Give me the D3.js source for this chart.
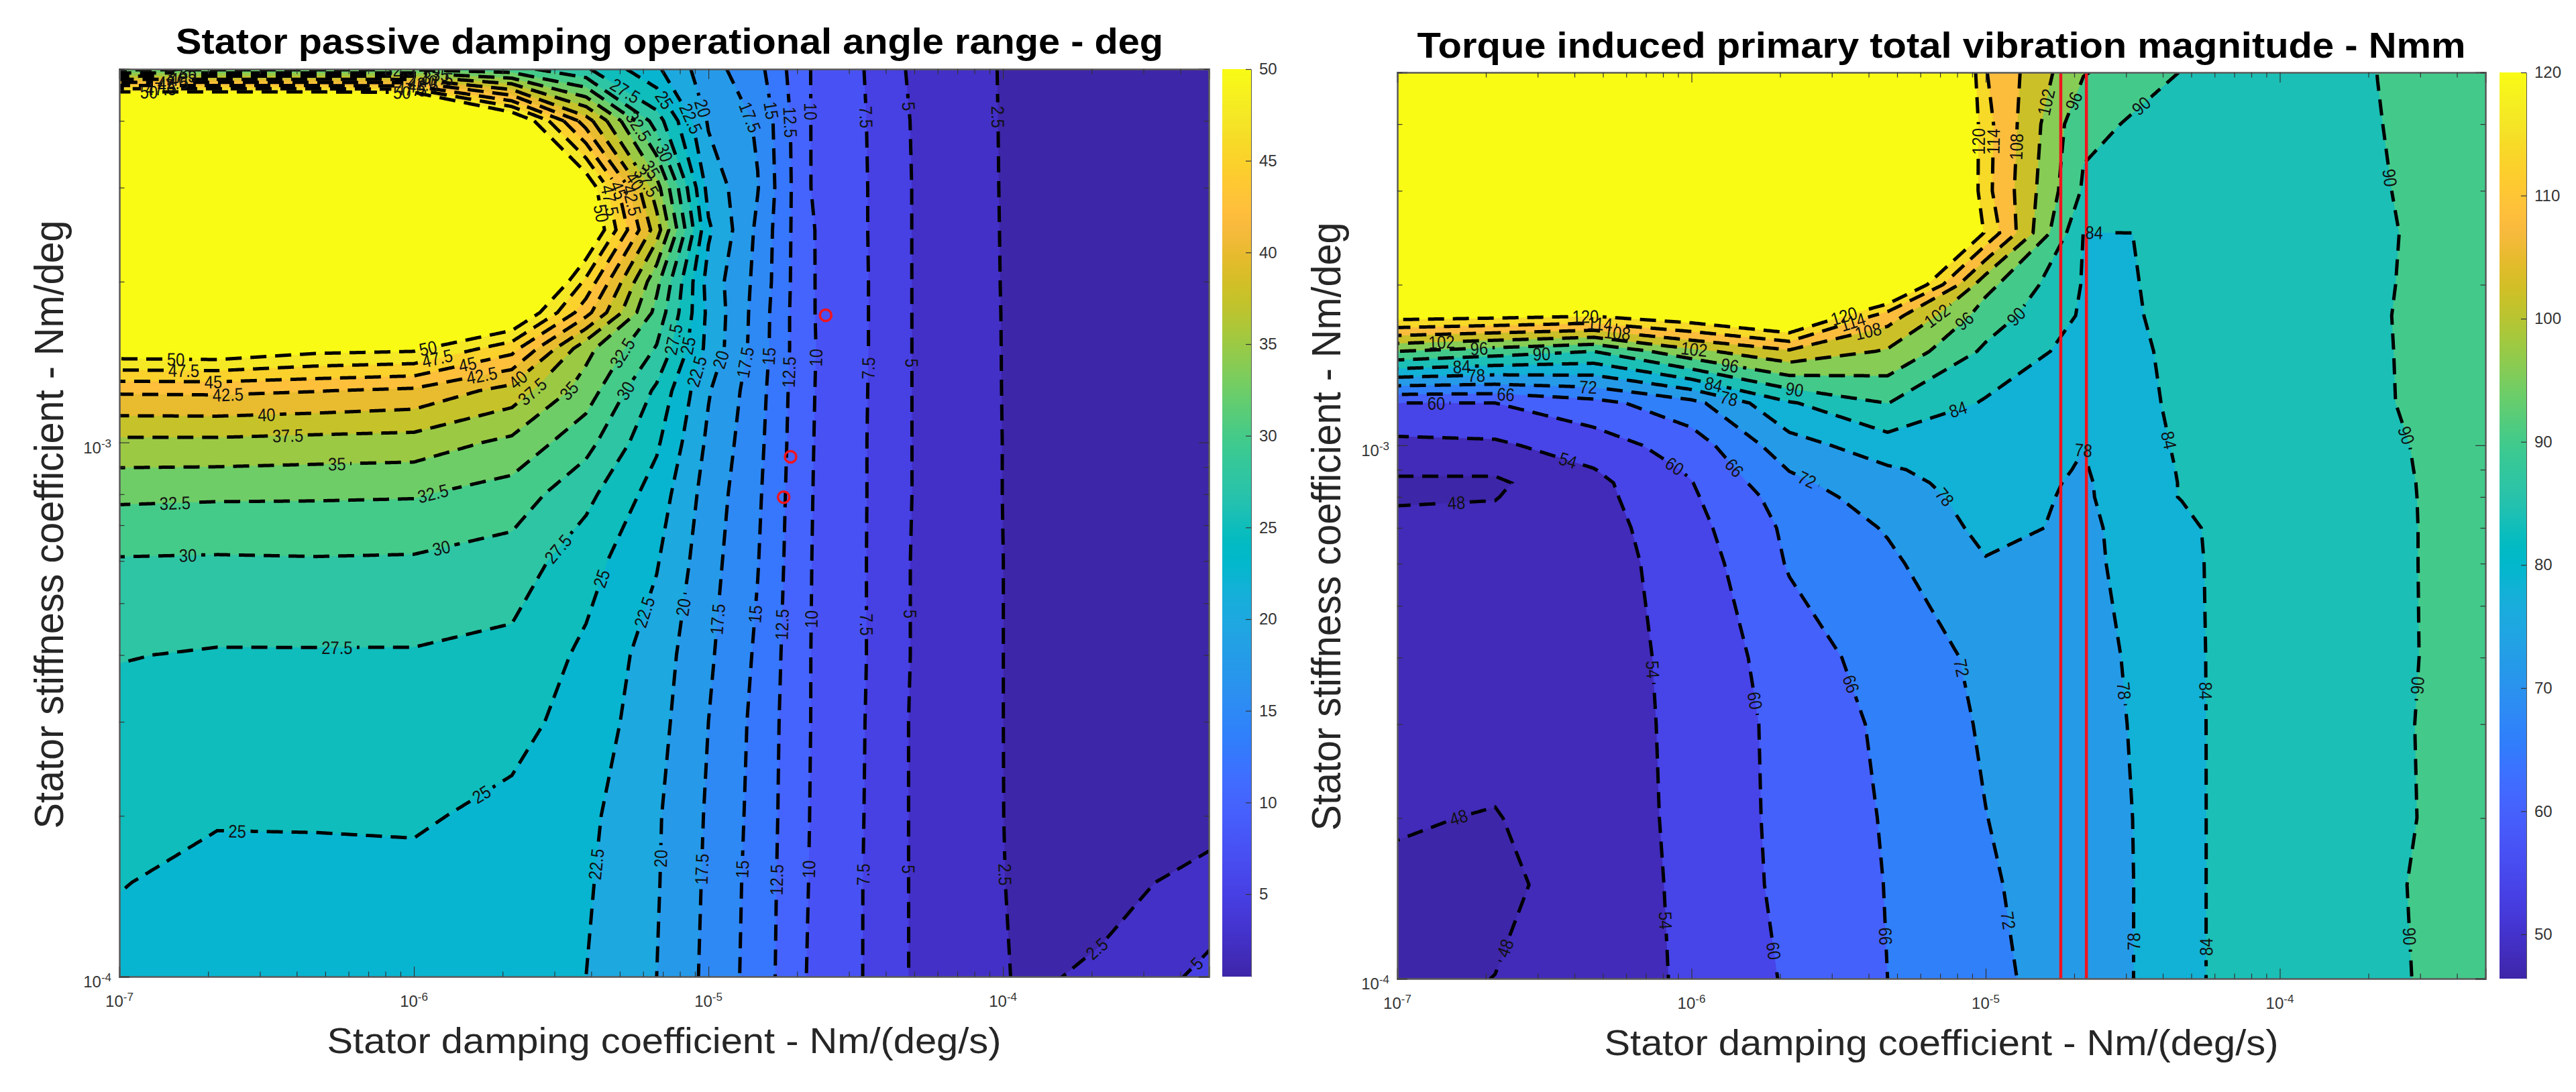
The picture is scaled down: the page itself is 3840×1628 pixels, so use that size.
<!DOCTYPE html>
<html>
<head>
<meta charset="utf-8">
<script src="https://cdn.jsdelivr.net/npm/d3@7"></script>
<style>
  body { margin: 0; background: white; }
  text { font-family: "Liberation Sans", Arial, sans-serif; }
</style>
</head>
<body>
<div id="chart"></div>
<script>
const textColor = '#333333';
const axisColor = '#5a5a5a';

// MATLAB parula, 64 entries
const parula = [
  [.2422,.1504,.6603],[.2504,.1650,.7076],[.2578,.1818,.7511],[.2647,.1978,.7952],
  [.2706,.2147,.8364],[.2751,.2342,.8710],[.2783,.2559,.8991],[.2803,.2782,.9221],
  [.2813,.3006,.9414],[.2810,.3228,.9579],[.2795,.3447,.9717],[.2760,.3667,.9829],
  [.2699,.3892,.9906],[.2602,.4123,.9952],[.2440,.4358,.9988],[.2206,.4603,.9973],
  [.1963,.4847,.9892],[.1834,.5074,.9798],[.1786,.5289,.9682],[.1764,.5499,.9520],
  [.1687,.5703,.9359],[.1540,.5902,.9218],[.1460,.6091,.9079],[.1380,.6276,.8973],
  [.1248,.6459,.8883],[.1113,.6635,.8763],[.0952,.6798,.8598],[.0689,.6948,.8394],
  [.0297,.7082,.8163],[.0036,.7203,.7917],[.0067,.7312,.7660],[.0433,.7411,.7394],
  [.0964,.7500,.7120],[.1408,.7584,.6842],[.1717,.7670,.6554],[.1938,.7758,.6251],
  [.2161,.7843,.5923],[.2470,.7918,.5567],[.2906,.7973,.5188],[.3406,.8008,.4789],
  [.3909,.8029,.4354],[.4456,.8024,.3909],[.5044,.7993,.3480],[.5616,.7942,.3045],
  [.6174,.7876,.2612],[.6720,.7793,.2227],[.7242,.7698,.1910],[.7738,.7598,.1646],
  [.8203,.7498,.1535],[.8634,.7406,.1596],[.9035,.7330,.1774],[.9393,.7288,.2100],
  [.9728,.7298,.2394],[.9956,.7434,.2371],[.9970,.7659,.2199],[.9952,.7861,.1967],
  [.9892,.8086,.1779],[.9786,.8323,.1660],[.9676,.8568,.1530],[.9610,.8890,.1537],
  [.9597,.9135,.1423],[.9628,.9373,.1265],[.9691,.9606,.1064],[.9769,.9839,.0805]
].map(c => d3.rgb(c[0] * 255, c[1] * 255, c[2] * 255).formatHex());

/* left panel data */
const angleDamping = [1e-7, 2.15e-7, 4.64e-7, 1e-6, 2.15e-6, 3.84e-6, 6.67e-6, 1e-5, 1.47e-5, 2.15e-5, 3.43e-5, 4.64e-5, 1e-4, 1.27e-4, 2.15e-4, 5e-4];
const angleStiffness = [1e-4, 1.5e-4, 2e-4, 3e-4, 4e-4, 6e-4, 8e-4, 1e-3, 1.25e-3, 1.5e-3, 1.75e-3, 2e-3, 2.5e-3, 3e-3, 4e-3, 5e-3];
// one line per stiffness row, bottom of the plot first
const angleRange = [
  [24.2, 23.6, 23.4, 23.3, 23.3, 22.5, 20, 16.9, 13.9, 10, 7.35, 5.1, 2.6, 2.2, 2.9, 5.64],
  [25.1, 24.3, 24.4, 24.4, 23.6, 22.8, 20.2, 17.06, 14, 10.1, 7.35, 5.1, 2.55, 1.9, 1.7, 3.3],
  [25.8, 25.2, 25.2, 25.3, 24.4, 23.1, 20.3, 17.2, 14.15, 10.15, 7.4, 5.1, 2.52, 1.7, 1.2, 1.6],
  [26.8, 26.4, 26.5, 26.5, 25.8, 24, 20.9, 17.5, 14.3, 10.2, 7.45, 5.1, 2.51, 1.7, 1.2, 1.2],
  [27.6, 27.3, 27.3, 27.3, 26.8, 24.5, 21.3, 17.9, 14.6, 10.2, 7.52, 5.15, 2.51, 1.7, 1.2, 1.2],
  [29.8, 29.7, 29.8, 29.7, 28.9, 26, 22.7, 18.45, 15.1, 10.25, 7.52, 5.15, 2.51, 1.7, 1.2, 1.2],
  [33, 32.85, 32.8, 32.7, 31.4, 28.2, 23.9, 18.9, 15.4, 10.3, 7.55, 5.2, 2.48, 1.7, 1.2, 1.2],
  [36.9, 36.9, 36.6, 36.4, 34.4, 30.85, 25.4, 19.5, 15.7, 10.35, 7.55, 5.2, 2.48, 1.7, 1.2, 1.2],
  [42.9, 43, 42.6, 42, 39, 33.8, 27, 20.2, 16, 10.4, 7.6, 5.2, 2.46, 1.7, 1.2, 1.2],
  [52.3, 52.5, 51, 50.6, 46, 35.8, 29.8, 21.7, 16.4, 10.45, 7.65, 5.2, 2.45, 1.7, 1.2, 1.2],
  [60, 60, 60, 58, 54, 43.4, 31.7, 21.9, 16.5, 10.4, 7.65, 5.2, 2.44, 1.7, 1.2, 1.2],
  [70, 70, 70, 66, 60, 46.9, 33.2, 21.5, 16.8, 10.4, 7.65, 5.2, 2.42, 1.7, 1.2, 1.2],
  [75, 75, 75, 72, 68, 54, 38.7, 22.9, 17, 10.4, 7.6, 5.2, 2.4, 1.7, 1.2, 1.2],
  [80, 80, 80, 76, 68, 52.5, 36, 21.6, 17.6, 10.2, 7.6, 5.2, 2.38, 1.7, 1.2, 1.2],
  [72.8, 72.8, 72.8, 72, 53.8, 41.2, 28.7, 19.7, 17.2, 10.2, 7.52, 5.15, 2.36, 1.7, 1.2, 1.2],
  [32, 32, 32, 32, 31, 27.8, 22.9, 18.5, 15.8, 10.2, 7.4, 5.02, 2.34, 1.7, 1.2, 1.2]
];
const angleLevels = d3.range(2.5, 50.1, 2.5);
const angleClim = [0.5, 50];
const angleBarTicks = d3.range(5, 51, 5);
const markerDamping = [2.5e-5, 1.9e-5, 1.8e-5];
const markerStiffness = [1.73e-3, 9.4e-4, 7.9e-4];
// contour label anchors: level, log10(damping), log10(stiffness)
const angleLabels = [
  [22.5,-5.36,-3.79],[20,-5.15,-3.78],[17.5,-5.02,-3.80],[15,-4.88,-3.80],[12.5,-4.76,-3.82],[10,-4.67,-3.80],
  [7.5,-4.47,-3.81],[5,-4.32,-3.80],[2.5,-4.00,-3.81],[2.5,-3.65,-3.97],[5,-3.35,-3.97],[25,-6.60,-3.73],[25,-5.77,-3.66],
  [27.5,-6.26,-3.38],[27.5,-5.49,-3.21],[25,-5.33,-3.26],[22.5,-5.21,-3.32],[20,-5.08,-3.31],[17.5,-4.99,-3.33],
  [15,-4.85,-3.32],[12.5,-4.74,-3.34],[10,-4.66,-3.33],[7.5,-4.47,-3.34],[5,-4.32,-3.32],[30,-6.77,-3.21],[30,-5.91,-3.19],
  [32.5,-6.81,-3.11],[32.5,-5.94,-3.09],[35,-6.26,-3.04],[37.5,-6.43,-2.98],[40,-6.50,-2.94],[42.5,-6.63,-2.91],
  [45,-6.68,-2.88],[47.5,-6.78,-2.86],[50,-6.81,-2.84],[50,-5.95,-2.83],[47.5,-5.92,-2.85],[45,-5.82,-2.85],
  [42.5,-5.77,-2.87],[40,-5.65,-2.88],[37.5,-5.59,-2.91],[35,-5.46,-2.91],[32.5,-5.27,-2.84],[30,-5.26,-2.91],
  [27.5,-5.10,-2.81],[25,-5.06,-2.82],[22.5,-5.02,-2.87],[20,-4.98,-2.84],[17.5,-4.87,-2.85],[15,-4.78,-2.84],
  [12.5,-4.71,-2.87],[10,-4.65,-2.84],[7.5,-4.45,-2.86],[5,-4.32,-2.85],[50,-5.35,-2.57],[47.5,-5.36,-2.55],
  [45,-5.33,-2.53],[42.5,-5.29,-2.55],[40,-5.25,-2.51],[37.5,-5.20,-2.51],[35,-5.17,-2.48],[32.5,-5.24,-2.41],
  [30,-5.11,-2.45],[27.5,-5.28,-2.34],[25,-5.18,-2.37],[22.5,-5.08,-2.40],[20,-5.00,-2.37],[17.5,-4.89,-2.40],
  [15,-4.81,-2.38],[12.5,-4.72,-2.40],[10,-4.65,-2.38],[7.5,-4.47,-2.39],[5,-4.33,-2.37],[2.5,-4.02,-2.39],
  [50,-6.90,-2.34],[47.5,-6.86,-2.34],[45,-6.84,-2.33],[42.5,-6.82,-2.32],[40,-6.80,-2.32],[37.5,-6.79,-2.31],[35,-6.77,-2.31],
  [50,-6.04,-2.34],[47.5,-6.01,-2.34],[45,-5.99,-2.33],[42.5,-5.97,-2.33],[40,-5.95,-2.32],[37.5,-5.92,-2.31],[35,-5.91,-2.31],[32.5,-6.05,-2.30]
];

/* right panel data */
const torqueDamping = [1e-7, 2.15e-7, 4.64e-7, 1e-6, 2.15e-6, 4.64e-6, 1e-5, 2.15e-5, 4.64e-5, 5.66e-5, 1e-4, 2.15e-4, 5e-4];
const torqueStiffness = [1e-4, 1.5e-4, 2e-4, 3e-4, 4e-4, 6e-4, 7e-4, 8e-4, 8.5e-4, 9e-4, 1e-3, 1.2e-3, 1.5e-3, 1.75e-3, 2e-3, 2.5e-3, 3e-3, 4e-3, 5e-3];
const vibration = [
  [47, 48.05, 51.4, 54.8, 60.7, 66, 70.4, 75.4, 80.5, 84.15, 86.2, 89.07, 92],
  [47.4, 47, 49.9, 55.6, 61.5, 66.2, 71.2, 75.7, 80.2, 84.15, 86.2, 89.25, 92],
  [48.3, 47.8, 50.3, 55.8, 61.7, 66.5, 71.9, 76, 80, 84.15, 86.2, 88.85, 92],
  [49.5, 49.5, 50.8, 55.8, 61.9, 67.2, 72.7, 76.4, 80, 84.17, 86.2, 88.95, 92],
  [50, 50.5, 51, 56, 62.9, 68.7, 73.2, 76.7, 80.1, 84.23, 86.2, 88.75, 92],
  [49.5, 50, 51.5, 56.7, 66.5, 70.8, 77.6, 77.1, 81, 84.4, 86.2, 88.8, 92],
  [49, 49.5, 51.5, 58, 67.2, 72.5, 79.5, 77, 82, 84.6, 86.2, 88.8, 92],
  [47.6, 47.8, 52.2, 59.2, 68.8, 75.2, 80, 77.2, 84.3, 84.85, 86.2, 88.85, 92],
  [47.1, 47.1, 52.5, 59.8, 70.6, 76.1, 80.5, 77.3, 84.3, 84.85, 86.2, 88.9, 92],
  [48.9, 48.9, 53.8, 60.8, 72.2, 77.3, 81, 77.6, 84.45, 84.9, 86.2, 89, 92],
  [52.4, 53, 57, 63, 75.6, 81.3, 81.9, 78.1, 84.8, 85, 86.2, 89.15, 92],
  [60, 60, 64, 70.1, 83.4, 90.1, 83.4, 79.5, 85.2, 85.3, 86.2, 89.6, 92],
  [96, 93, 90, 100.3, 107, 101.3, 88.9, 81.5, 85, 85.5, 86.2, 89.65, 92],
  [123, 122, 120.5, 125, 132, 110.9, 93.2, 83.2, 84.5, 85.7, 86.2, 89.7, 92],
  [170, 170, 170, 170, 170, 135, 97.8, 83.6, 84.3, 85.8, 86.2, 89.6, 92],
  [170, 170, 170, 170, 170, 170, 119, 83.9, 84.1, 86, 86.2, 89.5, 92],
  [170, 170, 170, 170, 170, 170, 115.8, 89.2, 86.5, 86.2, 86.4, 89.7, 92],
  [170, 170, 170, 170, 170, 170, 116, 91.2, 88, 86.6, 87, 89.9, 92],
  [170, 170, 170, 170, 170, 170, 114.3, 96.4, 89.8, 87, 87.5, 90.02, 92]
];
const torqueLevels = d3.range(48, 120.1, 6);
const torqueClim = [46.4, 120];
const torqueBarTicks = d3.range(50, 121, 10);
const redLines = [1.8e-5, 2.2e-5];
const torqueLabels = [
  [54,-6.09,-3.42],[60,-5.80,-3.48],[66,-5.47,-3.45],[72,-5.11,-3.42],[78,-4.53,-3.46],[84,-4.28,-3.46],[90,-3.53,-3.45],
  [48,-6.79,-3.70],[48,-6.60,-3.95],[54,-6.08,-3.89],[60,-5.75,-3.95],[66,-5.35,-3.92],[72,-4.92,-3.89],[78,-4.51,-3.93],
  [84,-4.27,-3.94],[90,-3.57,-3.92],[48,-6.80,-3.10],[54,-6.42,-3.03],[60,-6.07,-3.05],[66,-5.85,-3.04],[72,-5.61,-3.07],
  [78,-5.12,-3.09],[78,-4.64,-3.00],[84,-4.37,-2.99],[90,-3.56,-2.98],[84,-5.10,-2.92],[90,-4.88,-2.77],[96,-5.05,-2.78],
  [102,-5.15,-2.77],[108,-5.40,-2.78],[114,-5.45,-2.77],[120,-5.48,-2.76],[90,-5.65,-2.89],[78,-5.87,-2.90],[84,-5.92,-2.88],
  [96,-5.87,-2.85],[102,-5.99,-2.82],[66,-6.63,-2.90],[72,-6.35,-2.89],[90,-6.51,-2.83],[108,-6.25,-2.78],[114,-6.31,-2.76],
  [120,-6.36,-2.76],[60,-6.87,-2.92],[78,-6.73,-2.87],[84,-6.78,-2.85],[96,-6.72,-2.82],[102,-6.85,-2.81],[120,-5.02,-2.43],
  [114,-5.01,-2.43],[108,-4.92,-2.44],[102,-4.77,-2.36],[96,-4.67,-2.36],[90,-4.48,-2.36],[90,-3.65,-2.50],[84,-4.63,-2.59]
];

const svg = d3.select('#chart').append('svg')
  .attr('width', 3840)
  .attr('height', 1628);

const parulaScale = d3.piecewise(d3.interpolateRgb, parula);

function superscriptTick(selection, exponent) {
  selection.append('tspan').text('10');
  selection.append('tspan')
    .attr('dy', -9)
    .style('font-size', '17px')
    .text(exponent);
}

function addAxes(group, xScale, yScale, left, top, right, bottom) {
  const isDecade = d => Math.abs(Math.log10(d) - Math.round(Math.log10(d))) < 1e-6;
  const sides = [
    {axis: d3.axisBottom(xScale), pos: `translate(0,${bottom})`},
    {axis: d3.axisTop(xScale), pos: `translate(0,${top})`},
    {axis: d3.axisLeft(yScale), pos: `translate(${left},0)`},
    {axis: d3.axisRight(yScale), pos: `translate(${right},0)`}
  ];
  sides.forEach(({axis, pos}) => {
    const g = group.append('g')
      .attr('transform', pos)
      .call(axis.tickFormat('').tickSizeOuter(0).tickSize(-15));
    g.select('.domain').attr('stroke', axisColor).attr('stroke-width', 2.5);
    g.selectAll('.tick line')
      .attr('stroke', '#333')
      .attr('stroke-width', 1.2)
      .each(function (d) {
        const line = d3.select(this);
        const attr = line.attr('x2') !== null && +line.attr('x2') !== 0 ? 'x2' : 'y2';
        line.attr(attr, (+line.attr(attr)) * (isDecade(d) ? 1 : 0.5));
      });
  });

  xScale.ticks().filter(isDecade).forEach(d => {
    group.append('text')
      .attr('x', xScale(d))
      .attr('y', bottom + 45)
      .attr('text-anchor', 'middle')
      .attr('fill', textColor)
      .style('font-size', '24px')
      .call(superscriptTick, String(Math.round(Math.log10(d))));
  });
  yScale.ticks().filter(isDecade).forEach(d => {
    group.append('text')
      .attr('x', left - 12)
      .attr('y', yScale(d) + 16)
      .attr('text-anchor', 'end')
      .attr('fill', textColor)
      .style('font-size', '24px')
      .call(superscriptTick, String(Math.round(Math.log10(d))));
  });
}

function addColorbar(group, id, clim, ticks, x0, x1, top, bottom) {
  const scale = d3.scaleLinear().domain(clim).range([bottom, top]);
  const gradient = svg.append('defs').append('linearGradient')
    .attr('id', id)
    .attr('gradientTransform', 'rotate(270 0.5 0.5)');
  parula.forEach((c, i) => {
    gradient.append('stop')
      .attr('offset', `${i / (parula.length - 1) * 100}%`)
      .attr('stop-color', c);
  });
  group.append('rect')
    .attr('x', x0)
    .attr('y', top)
    .attr('width', x1 - x0)
    .attr('height', bottom - top)
    .attr('fill', `url(#${id})`);
  const g = group.append('g')
    .attr('transform', `translate(${x1},0)`)
    .call(d3.axisRight(scale).tickValues(ticks).tickFormat(d3.format('d')).tickSizeInner(-8).tickSizeOuter(0).tickPadding(12));
  g.select('.domain').attr('stroke', axisColor);
  g.selectAll('.tick line').attr('stroke', '#333').attr('stroke-width', 1.2);
  g.selectAll('.tick text').attr('fill', textColor).style('font-size', '24px').style('font-family', '"Liberation Sans", Arial, sans-serif');
}

// resample a ring to about 2px steps so gaps and tangents are simple
function densify(ring) {
  const out = [];
  for (let i = 0; i < ring.length - 1; i++) {
    const [x0, y0] = ring[i];
    const [x1, y1] = ring[i + 1];
    const steps = Math.max(1, Math.ceil(Math.hypot(x1 - x0, y1 - y0) / 2));
    for (let s = 0; s < steps; s++) {
      out.push([x0 + (x1 - x0) * s / steps, y0 + (y1 - y0) * s / steps]);
    }
  }
  out.push(ring[ring.length - 1]);
  return out;
}

function drawContourPanel({id, damping, stiffness, values, levels, clim, labels, left, top, right, bottom}) {
  const xScale = d3.scaleLog().domain([1e-7, 5e-4]).range([left, right]);
  const yScale = d3.scaleLog().domain([1e-4, 5e-3]).range([bottom, top]);
  const xIndex = d3.scaleLinear().domain(d3.range(damping.length)).range(damping.map(Math.log10));
  const yIndex = d3.scaleLinear().domain(d3.range(stiffness.length)).range(stiffness.map(Math.log10));
  const px = c => xScale(10 ** xIndex(c - 0.5));
  const py = c => yScale(10 ** yIndex(c - 0.5));
  const colorOf = level => parulaScale(Math.max(0, Math.min(1, (level - clim[0]) / (clim[1] - clim[0]))));

  const flat = values.flat();
  const contours = d3.contours().size([damping.length, stiffness.length]);
  const toPixels = ring => ring.map(p => [px(p[0]), py(p[1])]);

  svg.append('defs').append('clipPath').attr('id', `clip-${id}`)
    .append('rect')
    .attr('x', left)
    .attr('y', top)
    .attr('width', right - left)
    .attr('height', bottom - top);

  const group = svg.append('g');
  const plot = group.append('g').attr('clip-path', `url(#clip-${id})`);

  plot.append('rect')
    .attr('x', left)
    .attr('y', top)
    .attr('width', right - left)
    .attr('height', bottom - top)
    .attr('fill', colorOf(clim[0]));

  const path = d3.geoPath(d3.geoTransform({
    point(x, y) { this.stream.point(px(x), py(y)); }
  }));

  levels.forEach(level => {
    plot.append('path')
      .attr('d', path(contours.contour(flat, level)))
      .attr('fill', colorOf(level));
  });

  // isolines as dense rings, so each label can open a gap in its own line
  const ringsByLevel = new Map();
  levels.forEach(level => {
    const rings = [];
    contours.contour(flat, level).coordinates.forEach(polygon => {
      polygon.forEach(ring => {
        rings.push({pts: densify(toPixels(ring)), cuts: []});
      });
    });
    ringsByLevel.set(level, rings);
  });

  const labelLayer = group.append('g').attr('clip-path', `url(#clip-${id})`);
  labels.forEach(([level, logX, logY]) => {
    const rings = ringsByLevel.get(level);
    const ax = xScale(10 ** logX);
    const ay = yScale(10 ** logY);
    let best = null;
    rings.forEach(ring => {
      ring.pts.forEach((p, i) => {
        if (p[0] < left || p[0] > right || p[1] < top || p[1] > bottom) return;
        const dist = Math.hypot(p[0] - ax, p[1] - ay);
        if (!best || dist < best.dist) best = {ring, i, dist};
      });
    });
    if (!best) return;
    const {ring, i} = best;
    const a = ring.pts[Math.max(0, i - 6)];
    const b = ring.pts[Math.min(ring.pts.length - 1, i + 6)];
    let angle = Math.atan2(b[1] - a[1], b[0] - a[0]) * 180 / Math.PI;
    if (angle > 90) angle -= 180;
    if (angle <= -90) angle += 180;
    const p = ring.pts[i];
    const label = labelLayer.append('text')
      .attr('transform', `translate(${p[0]},${p[1]}) rotate(${angle}) scale(0.88,1)`)
      .attr('text-anchor', 'middle')
      .attr('dy', '0.36em')
      .attr('fill', '#111')
      .style('font-size', '27px')
      .text(level);
    const halfGap = label.node().getComputedTextLength() * 0.44 + 5;
    ring.cuts.push([i - halfGap / 2, i + halfGap / 2]);
  });

  const lineGen = d3.line();
  const lineLayer = plot.append('g')
    .attr('fill', 'none')
    .attr('stroke', 'black')
    .attr('stroke-width', 5)
    .attr('stroke-dasharray', '24,13');
  ringsByLevel.forEach(rings => {
    rings.forEach(ring => {
      const pieces = [];
      let piece = [];
      ring.pts.forEach((p, i) => {
        if (ring.cuts.some(c => i >= c[0] && i <= c[1])) {
          if (piece.length > 1) pieces.push(piece);
          piece = [];
        } else {
          piece.push(p);
        }
      });
      if (piece.length > 1) pieces.push(piece);
      pieces.forEach(pts => lineLayer.append('path').attr('d', lineGen(pts)));
    });
  });
  labelLayer.raise();

  return {group, plot, xScale, yScale};
}

function addTitles(title, xTitle, yTitle, conf) {
  svg.append('text')
    .attr('x', conf.titleX)
    .attr('y', conf.titleY)
    .attr('text-anchor', 'middle')
    .attr('textLength', conf.titleLen)
    .attr('lengthAdjust', 'spacingAndGlyphs')
    .attr('fill', 'black')
    .style('font-size', '54px')
    .style('font-weight', 'bold')
    .text(title);
  svg.append('text')
    .attr('x', conf.xTitleX)
    .attr('y', conf.xTitleY)
    .attr('text-anchor', 'middle')
    .attr('textLength', 1005)
    .attr('lengthAdjust', 'spacingAndGlyphs')
    .attr('fill', '#262626')
    .style('font-size', '54px')
    .text(xTitle);
  svg.append('text')
    .attr('transform', `translate(${conf.yTitleX},${conf.yTitleY}) rotate(-90)`)
    .attr('text-anchor', 'middle')
    .attr('textLength', 907)
    .attr('lengthAdjust', 'spacingAndGlyphs')
    .attr('fill', '#262626')
    .style('font-size', '62px')
    .text(yTitle);
}

const leftPanel = drawContourPanel({
  id: 'angle', damping: angleDamping, stiffness: angleStiffness, values: angleRange,
  levels: angleLevels, clim: angleClim, labels: angleLabels,
  left: 178, top: 103, right: 1802, bottom: 1456
});
markerDamping.forEach((d, i) => {
  leftPanel.group.append('circle')
    .attr('cx', leftPanel.xScale(d))
    .attr('cy', leftPanel.yScale(markerStiffness[i]))
    .attr('r', 8.5)
    .attr('fill', 'none')
    .attr('stroke', '#f0141e')
    .attr('stroke-width', 3.5);
});
addAxes(leftPanel.group, leftPanel.xScale, leftPanel.yScale, 178, 103, 1802, 1456);
addColorbar(leftPanel.group, 'bar-angle', angleClim, angleBarTicks, 1822, 1865, 103, 1456);
addTitles(
  'Stator passive damping operational angle range - deg',
  'Stator damping coefficient - Nm/(deg/s)',
  'Stator stiffness coefficient - Nm/deg',
  {titleX: 998, titleY: 80, titleLen: 1472, xTitleX: 990, xTitleY: 1570, yTitleX: 94, yTitleY: 782}
);

const rightPanel = drawContourPanel({
  id: 'torque', damping: torqueDamping, stiffness: torqueStiffness, values: vibration,
  levels: torqueLevels, clim: torqueClim, labels: torqueLabels,
  left: 2083, top: 108, right: 3705, bottom: 1459
});
redLines.forEach(d => {
  rightPanel.plot.append('line')
    .attr('x1', rightPanel.xScale(d))
    .attr('x2', rightPanel.xScale(d))
    .attr('y1', 108)
    .attr('y2', 1459)
    .attr('stroke', '#f0141e')
    .attr('stroke-width', 4.5);
});
addAxes(rightPanel.group, rightPanel.xScale, rightPanel.yScale, 2083, 108, 3705, 1459);
addColorbar(rightPanel.group, 'bar-torque', torqueClim, torqueBarTicks, 3726, 3766, 108, 1459);
addTitles(
  'Torque induced primary total vibration magnitude - Nmm',
  'Stator damping coefficient - Nm/(deg/s)',
  'Stator stiffness coefficient - Nm/deg',
  {titleX: 2894, titleY: 86, titleLen: 1563, xTitleX: 2894, xTitleY: 1573, yTitleX: 1998, yTitleY: 785}
);
</script>
</body>
</html>
